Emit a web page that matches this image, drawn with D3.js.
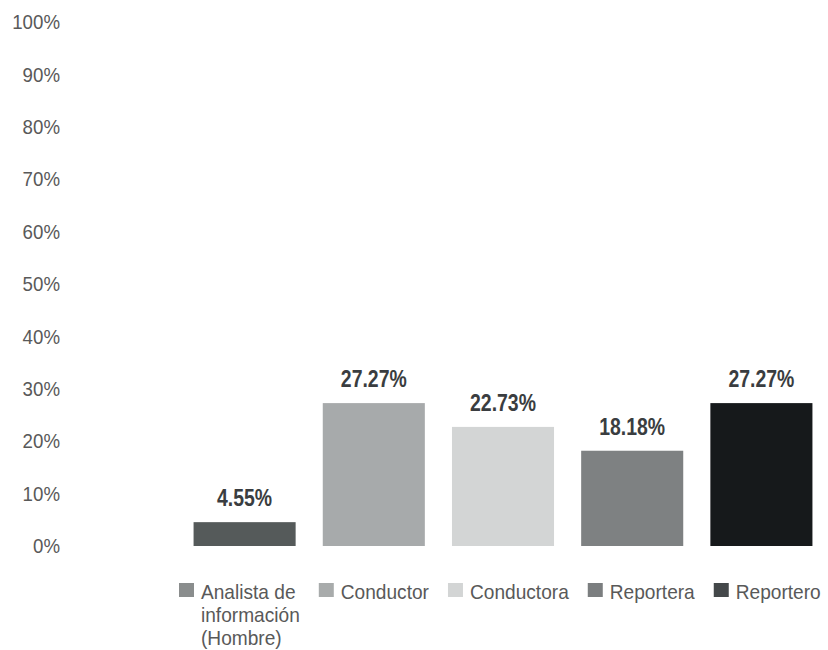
<!DOCTYPE html>
<html>
<head>
<meta charset="utf-8">
<script src="https://cdn.jsdelivr.net/npm/d3@7"></script>
<style>
  html, body { margin: 0; padding: 0; background: #fff; }
  svg { display: block; font-family: "Liberation Sans", Arial, sans-serif; }
</style>
</head>
<body>
<svg id="chart" width="828" height="650"></svg>
<script>
const categories = ["Analista de información (Hombre)", "Conductor", "Conductora", "Reportera", "Reportero"];
const values = [4.55, 27.27, 22.73, 18.18, 27.27];
const valueLabels = ["4.55%", "27.27%", "22.73%", "18.18%", "27.27%"];
const barColors = ["#555a5a", "#a7aaab", "#d3d5d5", "#7e8182", "#16191b"];
const legendColors = ["#8a8d8d", "#a8abab", "#d3d5d5", "#7b7e7f", "#44484a"];
const legendLines = [["Analista de", "información", "(Hombre)"], ["Conductor"], ["Conductora"], ["Reportera"], ["Reportero"]];
const yTicks = [0, 10, 20, 30, 40, 50, 60, 70, 80, 90, 100];

// narrow-font emulation: compress glyphs horizontally
function condense(sel, factor) {
  sel.each(function () {
    const L = this.getComputedTextLength();
    d3.select(this).attr("textLength", L * factor).attr("lengthAdjust", "spacingAndGlyphs");
  });
}

const svg = d3.select("#chart");

const x = d3.scaleBand().domain(categories).range([180, 826]).paddingInner(0.21).paddingOuter(0.105);
const y = d3.scaleLinear().domain([0, 100]).range([546, 22]);

const yAxis = d3.axisLeft(y).tickValues(yTicks).tickFormat(d => d + "%").tickSize(0).tickPadding(0);
const gy = svg.append("g").attr("transform", "translate(60,0)").call(yAxis);
gy.select(".domain").remove();
gy.selectAll("text").attr("font-size", 21).attr("fill", "#595959")
  .attr("font-family", "'Liberation Sans', Arial, sans-serif");
condense(gy.selectAll("text"), 0.89);

svg.append("g").selectAll("rect").data(categories).join("rect")
  .attr("x", d => x(d))
  .attr("y", (d, i) => y(values[i]))
  .attr("width", x.bandwidth())
  .attr("height", (d, i) => y(0) - y(values[i]))
  .attr("fill", (d, i) => barColors[i]);

const labels = svg.append("g").selectAll("text").data(categories).join("text")
  .attr("x", d => x(d) + x.bandwidth() / 2)
  .attr("y", (d, i) => y(values[i]) - 16)
  .attr("text-anchor", "middle")
  .attr("font-size", 24)
  .attr("font-weight", "bold")
  .attr("fill", "#3a3d40")
  .text((d, i) => valueLabels[i]);
condense(labels, 0.81);

// legend
const legend = svg.append("g");
let lx = 179;
const ly = 583;
categories.forEach((c, i) => {
  const g = legend.append("g").attr("transform", `translate(${lx},${ly})`);
  g.append("rect").attr("width", 15).attr("height", 14).attr("fill", legendColors[i]);
  const t = g.append("text").attr("x", 22).attr("y", 16).attr("font-size", 21).attr("fill", "#595959");
  legendLines[i].forEach((line, k) => {
    t.append("tspan").attr("x", 22).attr("dy", k === 0 ? 0 : 23).text(line);
  });
  condense(t.selectAll("tspan"), 0.91);
  let w = 0;
  t.selectAll("tspan").each(function () { w = Math.max(w, +this.getAttribute("textLength")); });
  lx += 22 + w + 19;
});
</script>
</body>
</html>
